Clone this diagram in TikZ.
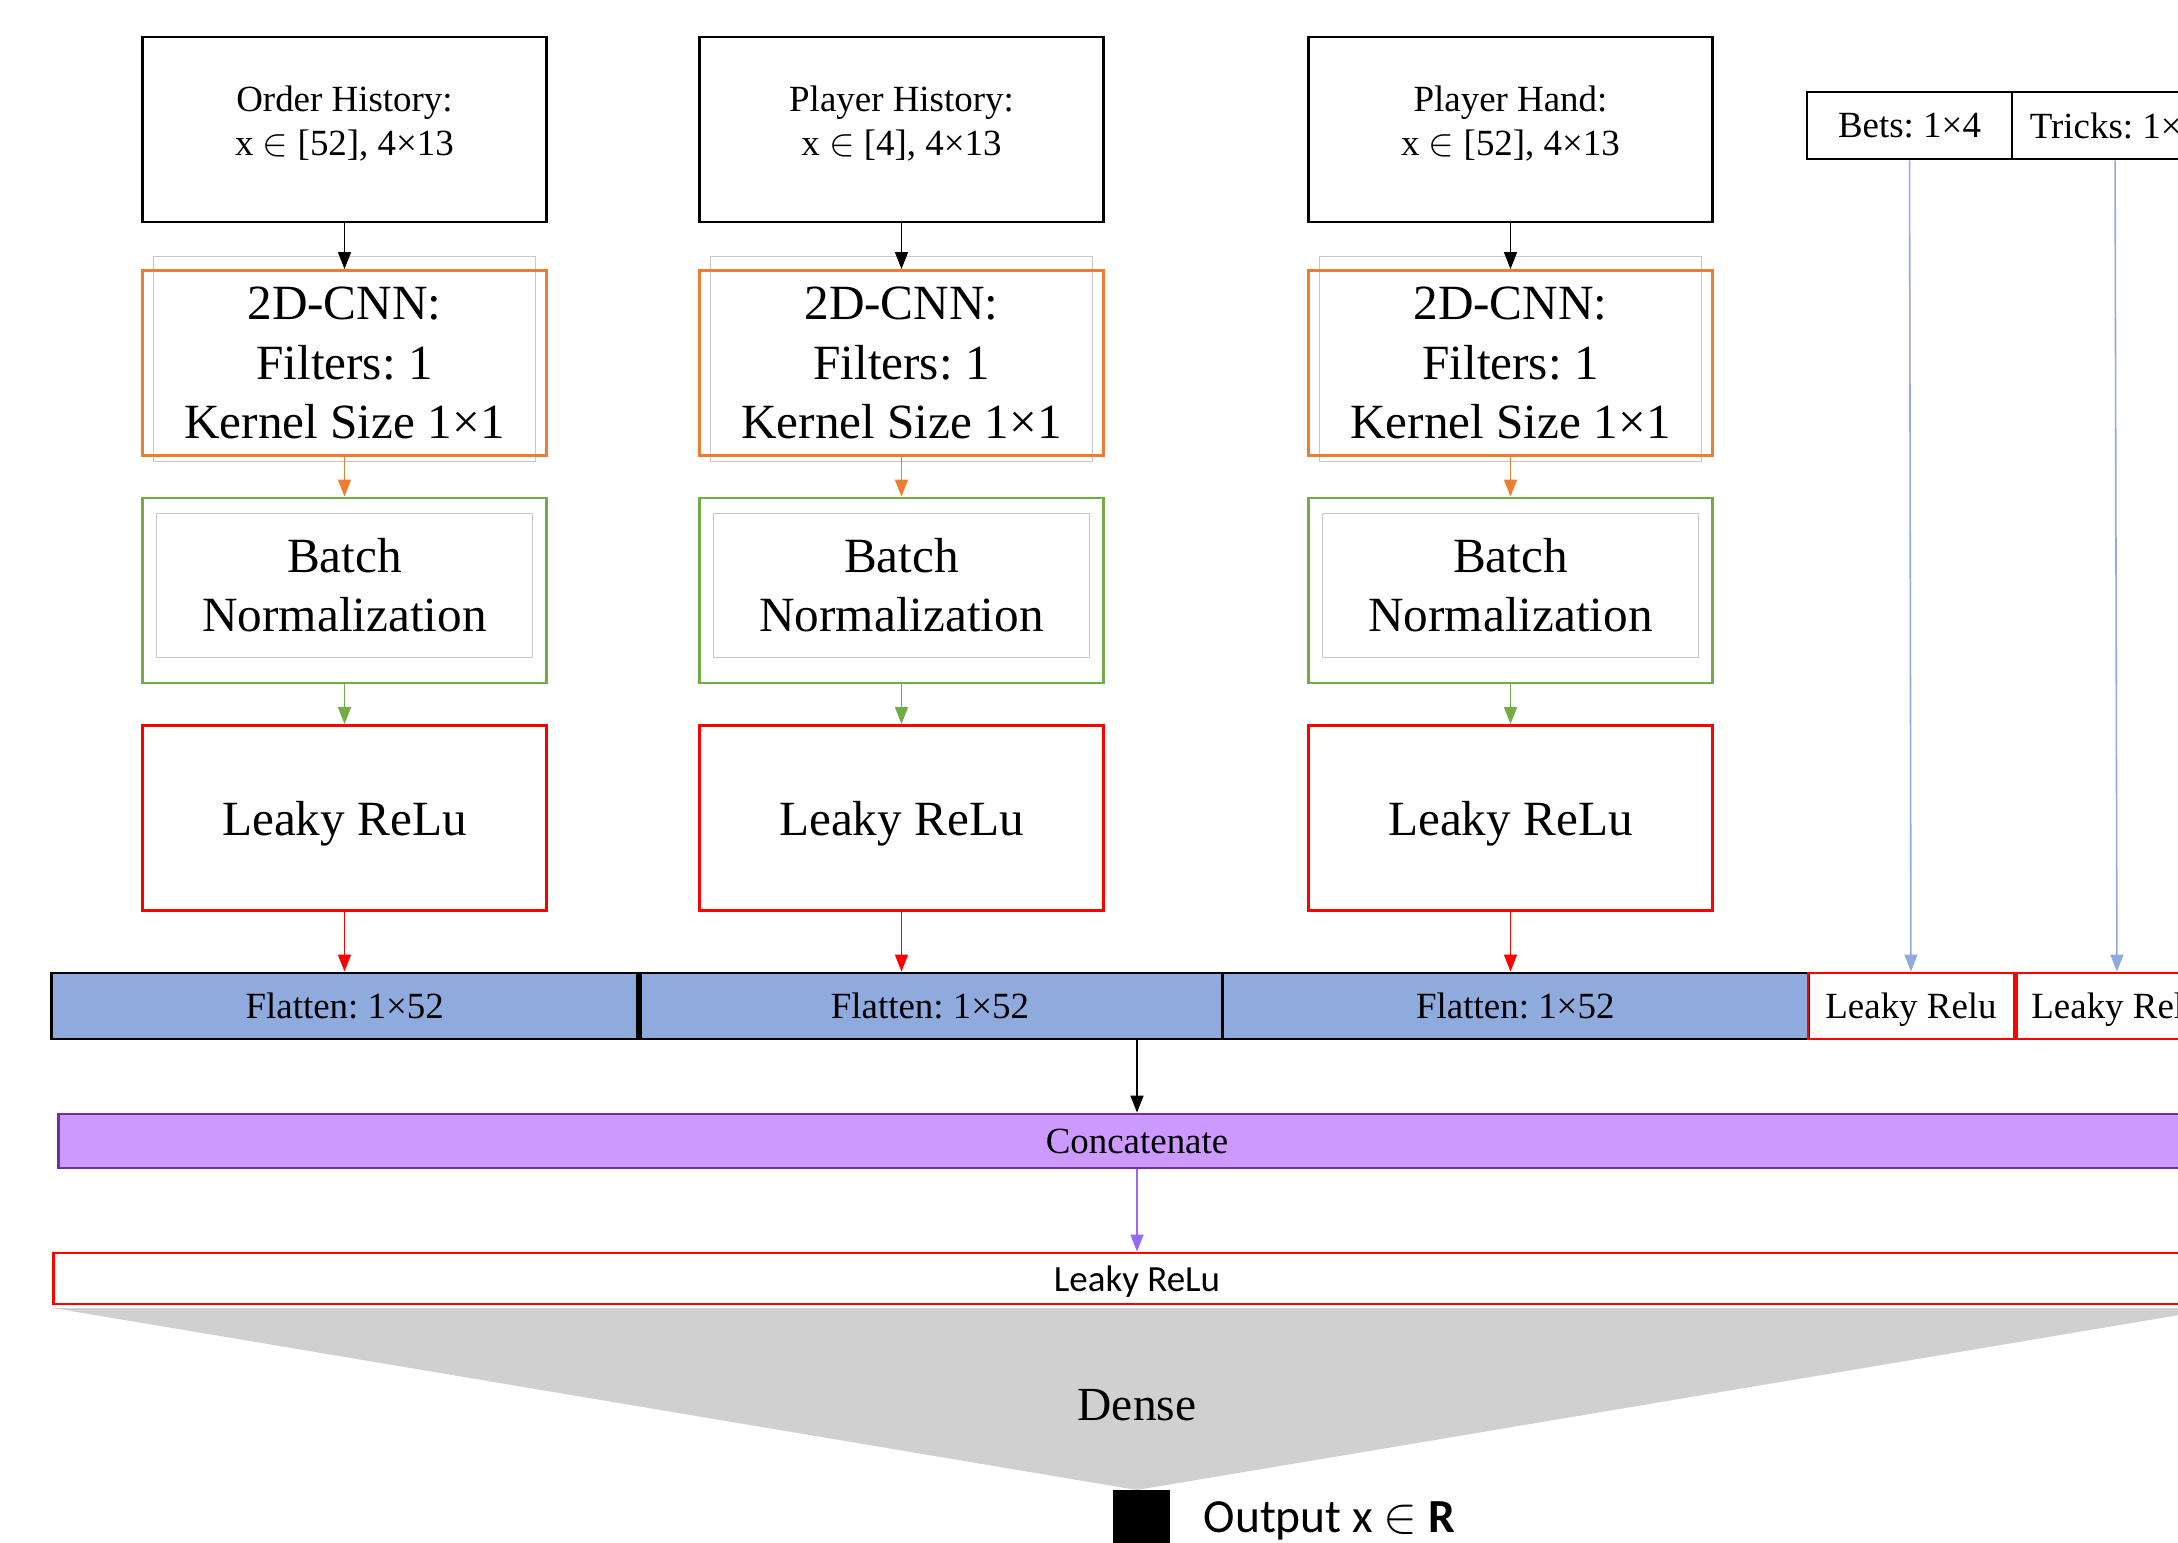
\documentclass[tikz,border=0pt]{standalone}
\usepackage{fontspec}
\setmainfont{Liberation Serif}
\newfontfamily\calfont{Carlito}
\usetikzlibrary{arrows.meta}
\frenchspacing
\definecolor{cnnorange}{RGB}{237,125,49}
\definecolor{bngreen}{RGB}{112,173,71}
\definecolor{flatblue}{RGB}{143,170,220}
\definecolor{catfill}{RGB}{204,153,255}
\definecolor{catline}{RGB}{112,48,160}
\definecolor{catarrow}{RGB}{153,102,255}
\definecolor{densegray}{RGB}{208,208,208}
\definecolor{ghostgray}{RGB}{200,200,200}

\tikzset{
    layer/.style={draw, line width=0.8pt, minimum width=4.03cm, minimum height=1.85cm, align=center, inner sep=0pt},
    inputbox/.style={layer, text depth=0.17cm, font=\fontsize{10.5}{12.4}\selectfont},
    cnnbox/.style={layer, draw=cnnorange, font=\fontsize{14}{16.8}\selectfont},
    bnbox/.style={layer, draw=bngreen, font=\fontsize{14}{16.8}\selectfont},
    relubox/.style={layer, draw=red, text depth=0pt, font=\fontsize{14}{16.8}\selectfont},
    ghost/.style={draw=ghostgray, line width=0.3pt, inner sep=0pt},
    strip/.style={draw, line width=0.8pt, inner sep=0pt, font=\fontsize{10.5}{12}\selectfont},
    flow/.style={-{Triangle[length=1.7mm,width=1.3mm]}, line width=0.45pt},
}

\begin{document}
\begin{tikzpicture}[x=0.01cm, y=-0.01cm]
    \useasboundingbox (0,0) rectangle (2178,1543);
    \clip (0,0) rectangle (2178,1543);

    % Three card branches
    \foreach \c/\cx/\fx/\ttl/\dom in {oh/344.5/344.7/Order History/52, ph/901.5/930/Player History/4, hand/1510.5/1515.3/Player Hand/52} {
        \node[ghost, minimum width=3.81cm, minimum height=2.04cm] (gh\c) at (\cx,359) {};
        \node[inputbox] (in\c) at (\cx,129.5) {\ttl:\\x $\in$ [\dom], 4×13};
        \node[cnnbox] (cnn\c) at (\cx,363) {2D-CNN:\\Filters: 1\\Kernel Size 1×1};
        \node[bnbox] (bn\c) at (\cx,590.5) {};
        \node[ghost, minimum width=3.76cm, minimum height=1.43cm, align=center, font=\fontsize{14}{16.8}\selectfont] (bt\c) at (\cx,585.5) {Batch\\Normalization};
        \node[relubox] (relu\c) at (\cx,818) {Leaky ReLu};
        \node[strip, fill=flatblue, minimum width=5.853cm, minimum height=0.66cm] (fl\c) at (\fx,1006) {Flatten: 1×52};

        \draw[flow] (in\c) -- (cnn\c);
        \draw[flow, cnnorange] (cnn\c) -- (bn\c);
        \draw[flow, bngreen] (bn\c) -- (relu\c);
        \draw[flow, red] (relu\c) -- (relu\c.south |- fl\c.north);
    }
    \draw[line width=1.6pt] (floh.north east) -- (floh.south east);

    % Bets and tricks
    \node[strip, minimum width=2.05cm, minimum height=0.67cm] (bets) at (1909.5,125.5) {Bets: 1×4};
    \node[strip, minimum width=2.06cm, minimum height=0.67cm] (tricks) at (2115,125.5) {Tricks: 1×4};
    \node[strip, draw=red, minimum width=2.06cm, minimum height=0.66cm, text depth=0pt] (rbets) at (1911,1006) {Leaky Relu};
    \node[strip, draw=red, minimum width=2.06cm, minimum height=0.66cm, text depth=0pt] (rtricks) at (2117,1006) {Leaky Relu};
    \draw[line width=1.6pt, red] (rbets.north east) -- (rbets.south east);
    \draw[flow, flatblue] (bets) -- (rbets);
    \draw[flow, flatblue] (tricks) -- (rtricks);

    % Merge
    \node[strip, draw=catline, fill=catfill, minimum width=21.56cm, minimum height=0.54cm] (cat) at (1137,1141) {Concatenate};
    \node[strip, draw=red, minimum width=21.66cm, minimum height=0.51cm, text depth=0pt, font=\calfont\fontsize{10.5}{12}\selectfont] (lr) at (1137,1278.5) {Leaky ReLu};
    \draw[flow] (cat.north |- flph.south) -- (cat);
    \draw[flow, catarrow] (cat) -- (lr);

    % Dense funnel
    \fill[densegray] (53,1308) -- (2221,1308) -- (1137,1490) -- cycle;
    \node[font=\fontsize{13.5}{16}\selectfont] (dense) at (1137,1405) {Dense};
    \node[fill=black, minimum size=0.57cm, inner sep=0pt] (out) at (1141.5,1518.5) {};
    \node[anchor=base west, inner sep=0pt, font=\calfont\fontsize{13.5}{16}\selectfont] (outlbl) at (1203,1532) {Output x $\in$ \textbf{R}};
\end{tikzpicture}
\end{document}
